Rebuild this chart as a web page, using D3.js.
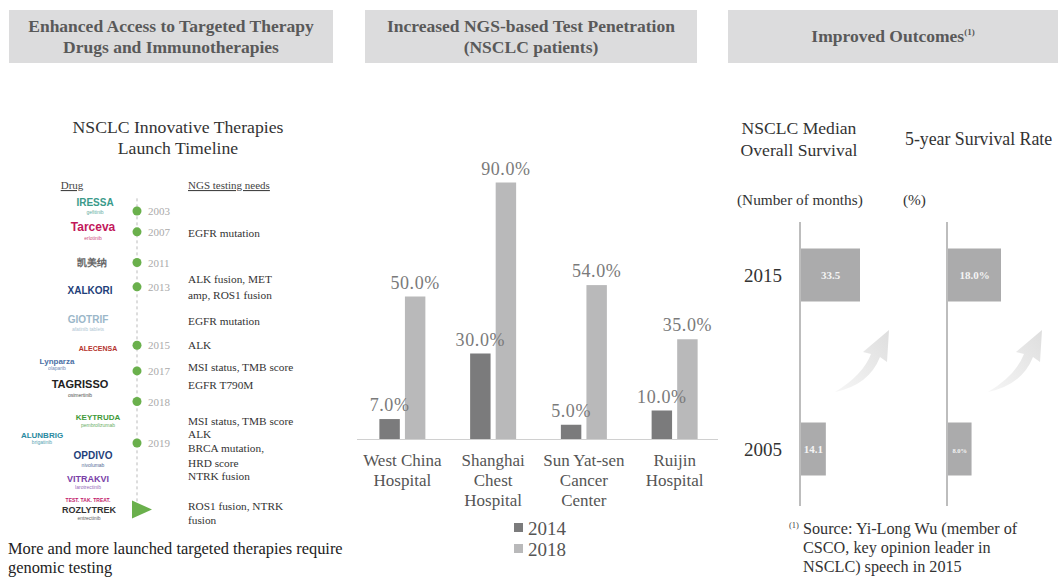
<!DOCTYPE html>
<html>
<head>
<meta charset="utf-8">
<style>
  body { margin: 0; background: #fff; }
</style>
</head>
<body>
<script src="https://cdn.jsdelivr.net/npm/d3@7"></script>
<script>

// ---- data ----
const headers = [
  ['Enhanced Access to Targeted Therapy', 'Drugs and Immunotherapies'],
  ['Increased NGS-based Test Penetration', '(NSCLC patients)'],
  ['Improved Outcomes']
];

const hospitals = [
  ['West China', 'Hospital'],
  ['Shanghai', 'Chest', 'Hospital'],
  ['Sun Yat-sen', 'Cancer', 'Center'],
  ['Ruijin', 'Hospital']
];
const series = ['2014', '2018'];
const values2014 = [7.0, 30.0, 5.0, 10.0];
const values2018 = [50.0, 90.0, 54.0, 35.0];

const survivalYears = ['2015', '2005'];
const medianOS = [33.5, 14.1];
const fiveYearRate = [18.0, 8.0];

// timeline: pos = position along the timeline (0..100)
const timelineYears = [
  { year: '2003', pos: 0 }, { year: '2007', pos: 6.6 }, { year: '2011', pos: 16.3 },
  { year: '2013', pos: 24 }, { year: '2015', pos: 42.5 }, { year: '2017', pos: 50.6 },
  { year: '2018', pos: 60.3 }, { year: '2019', pos: 73.4 }
];
const testingNeeds = [
  { text: 'EGFR mutation', pos: 6.9 },
  { text: 'ALK fusion, MET', pos: 21.6 }, { text: 'amp, ROS1 fusion', pos: 26.6 },
  { text: 'EGFR mutation', pos: 34.7 },
  { text: 'ALK', pos: 42.5 },
  { text: 'MSI status, TMB score', pos: 49.4 },
  { text: 'EGFR T790M', pos: 55 },
  { text: 'MSI status, TMB score', pos: 66.3 },
  { text: 'ALK', pos: 70.6 },
  { text: 'BRCA mutation,', pos: 75 },
  { text: 'HRD score', pos: 79.7 },
  { text: 'NTRK fusion', pos: 83.8 },
  { text: 'ROS1 fusion, NTRK', pos: 93.4 },
  { text: 'fusion', pos: 97.8 }
];
const drugs = [
  { name: 'IRESSA', sub: 'gefitinib', x: 95, pos: -2.5, color: '#3a9a8a', size: 10 },
  { name: 'Tarceva', sub: 'erlotinib', x: 93, pos: 5.3, color: '#c2185b', size: 12 },
  { name: '凯美纳', sub: '', x: 92, pos: 16.5, color: '#666', size: 10 },
  { name: 'XALKORI', sub: '', x: 90, pos: 25.3, color: '#1f3f7a', size: 10 },
  { name: 'GIOTRIF', sub: 'afatinib tablets', x: 88, pos: 34.4, color: '#9bb7c9', size: 10 },
  { name: 'ALECENSA', sub: '', x: 98, pos: 43.4, color: '#b5332e', size: 7 },
  { name: 'Lynparza', sub: 'olaparib', x: 57, pos: 47.5, color: '#4a6fa5', size: 8 },
  { name: 'TAGRISSO', sub: 'osimertinib', x: 80, pos: 55, color: '#222', size: 11 },
  { name: 'KEYTRUDA', sub: 'pembrolizumab', x: 98, pos: 65.3, color: '#3f9a3a', size: 8 },
  { name: 'ALUNBRIG', sub: 'brigatinib', x: 42, pos: 70.9, color: '#2a8aa0', size: 8 },
  { name: 'OPDIVO', sub: 'nivolumab', x: 93, pos: 77.5, color: '#1f3f7a', size: 10 },
  { name: 'VITRAKVI', sub: 'larotrectinib', x: 88, pos: 84.7, color: '#7a3fa8', size: 9 },
  { name: 'TEST. TAK. TREAT.', sub: '', x: 88, pos: 91, color: '#c2186b', size: 5 },
  { name: 'ROZLYTREK', sub: 'entrectinib', x: 89, pos: 94.7, color: '#333', size: 9 }
];

const width = 1058, height = 579;
const serif = '"Liberation Serif", "DejaVu Serif", serif';
const sans = '"Liberation Sans", "DejaVu Sans", sans-serif';

const svg = d3.select('body').append('svg')
  .attr('width', width).attr('height', height)
  .style('font-family', serif);

// ---- header boxes ----
const headerX = [[9, 333], [365, 697], [728, 1058]];
headers.forEach((lines, i) => {
  const [x0, x1] = headerX[i];
  svg.append('rect').attr('x', x0).attr('y', 10)
    .attr('width', x1 - x0).attr('height', 53).attr('fill', '#dcdcdd');
  const t = svg.append('text').attr('text-anchor', 'middle')
    .attr('font-size', 17.5).attr('font-weight', 'bold').attr('fill', '#595959');
  lines.forEach((l, j) => {
    t.append('tspan').attr('x', (x0 + x1) / 2)
      .attr('y', lines.length === 1 ? 42 : 32 + j * 21).text(l);
  });
  if (i === 2) t.append('tspan').attr('font-size', 9).attr('dy', -7).text('(1)');
});

// ---- left panel: timeline ----
const left = svg.append('g');
left.append('text').attr('text-anchor', 'middle').attr('font-size', 17.7).attr('fill', '#333')
  .selectAll('tspan').data(['NSCLC Innovative Therapies', 'Launch Timeline']).join('tspan')
  .attr('x', 178).attr('y', (d, i) => 133 + i * 21).text(d => d);

left.append('text').attr('x', 72).attr('y', 189).attr('text-anchor', 'middle')
  .attr('font-size', 11).attr('fill', '#444').attr('text-decoration', 'underline').text('Drug');
left.append('text').attr('x', 188).attr('y', 189)
  .attr('font-size', 11).attr('fill', '#444').attr('text-decoration', 'underline').text('NGS testing needs');

const ty = d3.scaleLinear().domain([0, 100]).range([211, 527]);

left.append('line').attr('x1', 137).attr('x2', 137)
  .attr('y1', ty(-4)).attr('y2', ty(92))
  .attr('stroke', '#bbb').attr('stroke-width', 1).attr('stroke-dasharray', '3,3');

left.selectAll('circle.yr').data(timelineYears).join('circle')
  .attr('cx', 137).attr('cy', d => ty(d.pos)).attr('r', 4.5).attr('fill', '#6ab04c');
left.selectAll('text.yr').data(timelineYears).join('text')
  .attr('x', 148).attr('y', d => ty(d.pos) + 4).attr('font-size', 11)
  .attr('fill', '#aaa').text(d => d.year);

left.append('path')
  .attr('d', `M132,${ty(94.5) - 9} L152,${ty(94.5)} L132,${ty(94.5) + 9} Z`)
  .attr('fill', '#6ab04c');

left.selectAll('text.need').data(testingNeeds).join('text')
  .attr('x', 188).attr('y', d => ty(d.pos) + 4).attr('font-size', 11.3)
  .attr('fill', '#333').text(d => d.text);

const drugG = left.selectAll('g.drug').data(drugs).join('g')
  .attr('transform', d => `translate(${d.x},${ty(d.pos)})`);
drugG.append('text').attr('text-anchor', 'middle').attr('y', 3)
  .style('font-family', sans)
  .attr('font-weight', 'bold').attr('font-size', d => d.size)
  .attr('fill', d => d.color).text(d => d.name);
drugG.append('text').attr('text-anchor', 'middle').attr('y', d => 3 + d.size * 0.8)
  .style('font-family', sans)
  .attr('font-size', 5).attr('fill', d => d.color).attr('opacity', 0.8)
  .text(d => d.sub);

left.append('text').attr('font-size', 16.4).attr('fill', '#222')
  .selectAll('tspan').data(['More and more launched targeted therapies require', 'genomic testing'])
  .join('tspan').attr('x', 8).attr('y', (d, i) => 554 + i * 19).text(d => d);

// ---- middle panel: grouped bar chart ----
const barBase = 439;
const x0 = d3.scaleBand().domain(d3.range(hospitals.length)).range([357, 720]);
const x1 = d3.scaleBand().domain(series).range([-23, 23]).paddingInner(0.2);
const y = d3.scaleLinear().domain([0, 100]).range([barBase, 154]);
const colors = { '2014': '#7b7b7c', '2018': '#b9b9ba' };

const rows = hospitals.map((h, i) => ({ i, vals: [
  { s: '2014', v: values2014[i] }, { s: '2018', v: values2018[i] }] }));

const groups = svg.append('g').selectAll('g').data(rows).join('g')
  .attr('transform', d => `translate(${x0(d.i) + x0.bandwidth() / 2},0)`);
groups.selectAll('rect').data(d => d.vals).join('rect')
  .attr('x', d => x1(d.s)).attr('width', x1.bandwidth())
  .attr('y', d => y(d.v)).attr('height', d => barBase - y(d.v))
  .attr('fill', d => colors[d.s]);
groups.selectAll('text.val').data(d => d.vals).join('text')
  .attr('x', d => x1(d.s) + x1.bandwidth() / 2).attr('y', d => y(d.v) - 8)
  .attr('text-anchor', 'middle').attr('font-size', 18).attr('letter-spacing', 0.6)
  .attr('fill', '#7a7a7a')
  .text(d => d.v.toFixed(1) + '%');

svg.append('line').attr('x1', 357).attr('x2', 718)
  .attr('y1', barBase + 0.5).attr('y2', barBase + 0.5).attr('stroke', '#d0d0d0');

groups.append('text').attr('text-anchor', 'middle').attr('font-size', 17).attr('fill', '#555')
  .selectAll('tspan').data(d => hospitals[d.i]).join('tspan')
  .attr('x', 0).attr('y', (d, i) => 466 + i * 20).text(d => d);

const legend = svg.append('g').selectAll('g').data(series).join('g')
  .attr('transform', (d, i) => `translate(514,${528 + i * 21})`);
legend.append('rect').attr('y', -5).attr('width', 9).attr('height', 9)
  .attr('fill', d => colors[d]);
legend.append('text').attr('x', 14).attr('y', 6.5).attr('font-size', 19)
  .attr('fill', '#555').text(d => d);

// ---- right panel: outcomes ----
const right = svg.append('g');
right.append('text').attr('text-anchor', 'middle').attr('font-size', 17.6).attr('fill', '#333')
  .selectAll('tspan').data(['NSCLC Median', 'Overall Survival']).join('tspan')
  .attr('x', 799).attr('y', (d, i) => 134 + i * 22).text(d => d);
right.append('text').attr('x', 905).attr('y', 145).attr('font-size', 17.8).attr('fill', '#333')
  .text('5-year Survival Rate');
right.append('text').attr('x', 737).attr('y', 205).attr('font-size', 15.3).attr('fill', '#333')
  .text('(Number of months)');
right.append('text').attr('x', 903).attr('y', 205).attr('font-size', 15.3).attr('fill', '#333')
  .text('(%)');

const yy = d3.scalePoint().domain(survivalYears).range([275, 449]);
const barH = 53;

function hbar(vals, x, fmt) {
  const g = right.append('g');
  g.append('line').attr('x1', x.range()[0]).attr('x2', x.range()[0])
    .attr('y1', 222).attr('y2', 506).attr('stroke', '#bdbdbd').attr('stroke-width', 2);
  g.selectAll('rect').data(vals).join('rect')
    .attr('x', x.range()[0] + 1).attr('y', (d, i) => yy(survivalYears[i]) - barH / 2)
    .attr('width', d => x(d) - x.range()[0]).attr('height', barH)
    .attr('fill', '#ababac');
  g.selectAll('text').data(vals).join('text')
    .attr('x', d => (x(d) + x.range()[0]) / 2 + 1)
    .attr('y', (d, i) => yy(survivalYears[i]) + 4)
    .attr('text-anchor', 'middle').attr('font-size', d => d < 10 ? 6.5 : 11)
    .attr('font-weight', 'bold').attr('fill', '#f4f4f4').text(fmt);
}
hbar(medianOS, d3.scaleLinear().domain([0, 33.5]).range([800, 859]), d => d.toFixed(1));
hbar(fiveYearRate, d3.scaleLinear().domain([0, 18]).range([947, 1000]), d => d.toFixed(1) + '%');

right.selectAll('text.yr').data(survivalYears).join('text')
  .attr('x', 763).attr('y', d => yy(d) + 7).attr('text-anchor', 'middle')
  .attr('font-size', 19).attr('fill', '#333').text(d => d);

// curved arrows
const defs = svg.append('defs');
const grad = defs.append('linearGradient').attr('id', 'arrowGrad')
  .attr('x1', '0%').attr('y1', '100%').attr('x2', '100%').attr('y2', '0%');
grad.append('stop').attr('offset', '0%').attr('stop-color', '#f6f6f6');
grad.append('stop').attr('offset', '100%').attr('stop-color', '#dedede');
[[835, 330], [988, 330]].forEach(([ax, ay]) => {
  right.append('path')
    .attr('transform', `translate(${ax},${ay})`)
    .attr('d', 'M0,62 Q28,45 36,24 L28,22 L54,0 L52,32 L45,27 Q34,55 0,62 Z')
    .attr('fill', 'url(#arrowGrad)');
});

const note = right.append('text').attr('font-size', 16.2).attr('fill', '#333');
note.append('tspan').attr('x', 789).attr('y', 528).attr('font-size', 8.5).attr('fill', '#444').text('(1)');
note.append('tspan').attr('x', 803).attr('y', 534).text('Source: Yi-Long Wu (member of');
note.append('tspan').attr('x', 803).attr('y', 553).text('CSCO, key opinion leader in');
note.append('tspan').attr('x', 803).attr('y', 572).text('NSCLC) speech in 2015');

</script>
</body>
</html>
